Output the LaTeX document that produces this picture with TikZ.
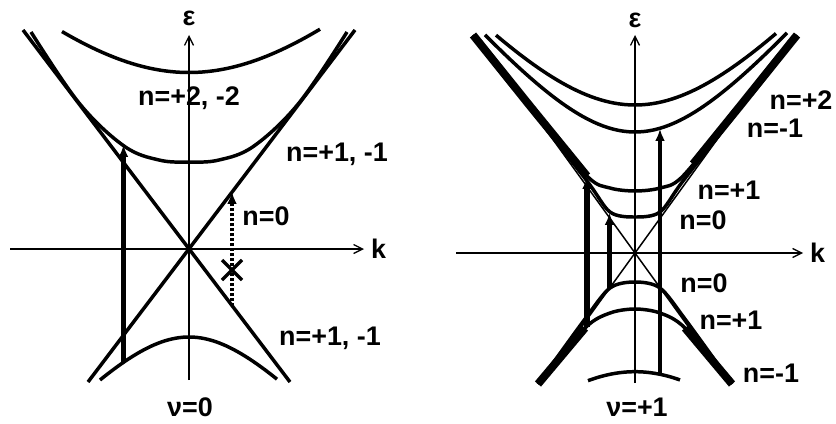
\documentclass[tikz,border=0pt]{standalone}
\usepackage{fontspec}
\setmainfont{Liberation Sans}
\usetikzlibrary{arrows.meta,positioning}
\tikzset{
  axis/.style={line width=1.3pt, -{Straight Barb[length=9pt,width=9pt]}},
  branch/.style={line width=3.5pt},
  cone/.style={line width=1.5pt},
  overlap/.style={line width=8pt},
  jump/.style={-{Latex[length=12pt,width=10pt]}, line width=5.5pt},
  forbidden/.style={-{Latex[length=12pt,width=10pt]}, line width=5pt, dash pattern=on 3pt off 2pt},
  lbl/.style={font=\bfseries\fontsize{27}{30}\selectfont, inner sep=0pt}
}

\begin{document}
\begin{tikzpicture}[x=1bp, y=1bp]
  \useasboundingbox (0,0) rectangle (836,423);

  % nu = 0
  \begin{scope}[shift={(189,174)}]
    \coordinate (kA) at (-179,0);
    \coordinate (kB) at (175,0);
    \coordinate (eA) at (0,-131);
    \coordinate (eB) at (0,214);
    \draw[axis] (kA) -- (kB);
    \draw[axis] (eA) -- (eB);
    \node[lbl, right=7pt of kB] (kLblA) {k};
    \node[lbl, above=9pt of eB] (epsLblA) {ε};

    % n=0 cone
    \draw[branch] (-166,219) -- (101,-133);
    \draw[branch] (166,219) -- (-101,-133);
    % n=+1,-1 and n=+2,-2
    \draw[branch] plot[smooth, tension=0.6] coordinates {(-158,217) (-110,146) (-65,103) (-30,89) (0,87) (30,89) (65,103) (110,146) (158,217)};
    \draw[branch] plot[domain=-127:131, samples=60] (\x, {100*sqrt((\x/100)^2+1.765^2)});
    \draw[branch] plot[domain=-89:88, samples=50] (\x, {-100*sqrt((1.09*\x/100)^2+0.88^2)});

    \coordinate (jumpBot) at (-65.5,-113);
    \coordinate (jumpTop) at (-65.5,104);
    \coordinate (dashBot) at (43,-57);
    \coordinate (dashTop) at (43,57);
    \coordinate (xMark) at (43,-21);
    \draw[jump] (jumpBot) -- (jumpTop);
    \draw[forbidden] (dashBot) -- (dashTop);
    \draw[branch] (xMark) +(-10,10) -- +(10,-10) (xMark) +(-10,-10) -- +(10,10);
  \end{scope}

  \node[lbl] (nTwoA) at (189,325) {n=+2, -2};
  \node[lbl] (nOneUpA) at (337,269) {n=+1, -1};
  \node[lbl] (nZeroA) at (266,207) {n=0};
  \node[lbl] (nOneDnA) at (330,85) {n=+1, -1};
  \node[lbl] (nuA) at (190,16) {ν=0};

  % nu = +1
  \begin{scope}[shift={(635,170)}]
    \coordinate (kC) at (-179,0);
    \coordinate (kD) at (168,0);
    \coordinate (eC) at (0,-130);
    \coordinate (eD) at (0,218);
    \draw[axis] (kC) -- (kD);
    \draw[axis] (eC) -- (eD);
    \node[lbl, right=7pt of kD] (kLblB) {k};
    \node[lbl, above=7pt of eD] (epsLblB) {ε};

    \draw[cone] (-154,213) -- (94,-130);
    \draw[cone] (154,213) -- (-94,-130);
    % upper branches
    \draw[branch] plot[domain=-139:141, samples=60] (\x, {100*sqrt((1.15*\x/100)^2+1.48^2)});
    \draw[branch] plot[domain=-150:152, samples=60] (\x, {100*sqrt((1.21*\x/100)^2+1.21^2)});
    \draw[branch] plot[smooth] coordinates {(-162,218) (-105,147) (-48,77) (-25,65) (0,62) (25,65) (48,77) (105,147) (162,218)};
    \draw[branch] plot[smooth] coordinates {(-160,216) (-105,145) (-48,72) (-25,41) (0,36) (25,41) (48,72) (105,145) (160,216)};
    \draw[overlap] (-162,218) -- (-105,147) -- (-48,77);
    \draw[overlap] (162,218) -- (105,147) -- (58,89);
    % lower branches
    \draw[branch] plot[smooth] coordinates {(-97,-131) (-50,-66) (-25,-35) (0,-29) (25,-35) (50,-66) (97,-131)};
    \draw[branch] plot[smooth] coordinates {(-97,-131) (-50,-75) (-25,-60) (0,-56) (25,-60) (50,-75) (97,-131)};
    \draw[branch] plot[domain=-47:45, samples=30] (\x, {-100*sqrt((\x/100)^2+1.187^2)});
    \draw[overlap] (-97,-131) -- (-50,-75);
    \draw[overlap] (97,-131) -- (50,-75);

    \coordinate (aBot) at (-48,-74);
    \coordinate (aTop) at (-48,76);
    \coordinate (bBot) at (-25.5,-35);
    \coordinate (bTop) at (-25.5,40);
    \coordinate (cBot) at (25,-121);
    \coordinate (cTop) at (25,124);
    \foreach \a/\b/\w in {aBot/aTop/6.5, bBot/bTop/5, cBot/cTop/4.5}
      \draw[jump, line width=\w pt] (\a) -- (\b);
  \end{scope}

  \node[lbl] (nTwoB) at (801,323) {n=+2};
  \node[lbl] (nMinUpB) at (775,295) {n=-1};
  \node[lbl] (nOneUpB) at (729,233) {n=+1};
  \node[lbl] (nZeroUpB) at (703,203) {n=0};
  \node[lbl] (nZeroDnB) at (704,140) {n=0};
  \node[lbl] (nOneDnB) at (731,103) {n=+1};
  \node[lbl] (nMinDnB) at (771,50) {n=-1};
  \node[lbl] (nuB) at (637,16) {ν=+1};
\end{tikzpicture}
\end{document}
